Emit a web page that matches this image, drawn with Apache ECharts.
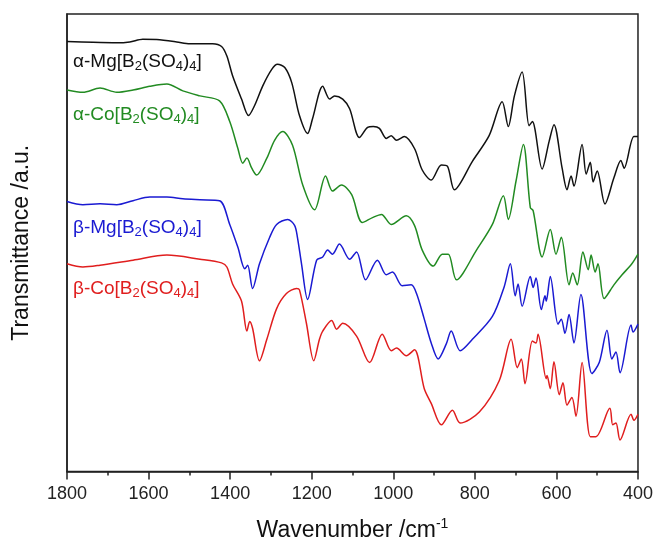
<!DOCTYPE html>
<html><head><meta charset="utf-8">
<script src="https://cdn.jsdelivr.net/npm/echarts@6/dist/echarts.min.js"></script>
<style>html,body{margin:0;padding:0;background:#fff}#c{width:656px;height:547px}</style>
</head><body><div id="c"></div>
<script>
// wavenumber (cm-1), transmittance (a.u., offset)
const alphaMg = [[1800,94.0],[1736,93.8],[1678,93.7],[1646,93.9],[1614,94.5],[1580,94.4],[1531,93.9],[1499,93.5],[1443,93.5],[1421,92.9],[1408,90.8],[1394,86.5],[1372,81.4],[1355,77.8],[1340,80.0],[1320,84.3],[1298,87.9],[1284,89.0],[1266,88.3],[1249,85.0],[1230,77.8],[1210,73.9],[1198,77.1],[1173,84.2],[1156,81.4],[1144,82.1],[1124,81.4],[1107,79.3],[1083,73.0],[1063,75.2],[1049,75.4],[1034,75.0],[1017,72.8],[1005,73.4],[992,72.4],[973,73.2],[948,70.6],[929,65.9],[907,63.7],[882,67.0],[867,66.7],[850,61.6],[806,67.8],[765,73.4],[733,80.8],[718,75.4],[703,82.1],[684,87.3],[667,75.6],[659,76.5],[635,66.1],[618,72.1],[606,75.8],[586,66.3],[574,61.6],[564,64.6],[557,62.4],[537,71.5],[527,65.0],[517,67.6],[510,63.3],[500,65.7],[481,58.5],[459,64.2],[442,68.0],[434,66.3],[410,73.2],[400,73.2]];
const alphaCo = [[1800,83.4],[1761,82.9],[1719,83.8],[1678,82.9],[1638,83.4],[1597,84.2],[1555,84.7],[1516,83.2],[1474,82.1],[1426,81.0],[1401,76.5],[1381,70.6],[1369,67.4],[1359,68.5],[1347,66.3],[1335,64.8],[1310,68.5],[1291,72.4],[1271,74.3],[1247,71.3],[1222,62.6],[1193,57.2],[1166,64.6],[1149,61.3],[1127,62.6],[1102,60.5],[1076,54.4],[1051,55.5],[1029,56.2],[1005,54.0],[968,55.9],[948,53.8],[929,48.4],[902,44.9],[880,47.5],[865,47.5],[845,41.9],[796,48.4],[757,54.0],[730,60.3],[718,55.1],[699,63.5],[681,71.5],[664,57.7],[657,57.0],[635,46.9],[615,52.9],[601,47.5],[588,51.2],[569,40.8],[560,43.4],[549,40.8],[535,48.0],[522,44.1],[515,47.3],[505,43.6],[498,45.4],[483,37.8],[459,40.8],[439,43.0],[415,45.4],[400,47.5]];
const betaMg = [[1800,59.0],[1761,58.3],[1719,58.5],[1678,58.3],[1638,59.2],[1597,60.0],[1555,60.0],[1516,59.6],[1474,59.4],[1426,59.2],[1401,54.0],[1381,49.0],[1364,44.3],[1357,45.1],[1345,40.0],[1328,45.4],[1303,51.2],[1286,54.0],[1259,55.1],[1242,53.8],[1235,51.2],[1225,45.4],[1210,37.6],[1188,46.2],[1173,46.9],[1161,48.4],[1149,47.5],[1132,49.7],[1107,46.4],[1090,48.0],[1068,41.9],[1039,46.2],[1017,43.0],[1002,43.6],[978,40.6],[956,40.8],[943,38.9],[924,33.3],[907,28.1],[890,24.6],[870,27.9],[858,30.7],[836,26.4],[806,28.9],[757,33.9],[728,40.4],[713,45.4],[701,38.4],[694,41.0],[684,36.1],[664,42.6],[657,40.2],[650,42.3],[637,35.4],[628,38.4],[625,37.2],[615,42.6],[596,32.2],[588,33.3],[579,30.2],[569,34.3],[557,28.1],[540,38.7],[513,21.4],[495,23.8],[476,30.9],[464,24.6],[454,26.1],[444,21.6],[417,32.0],[412,30.5],[400,32.2]];
const betaCo = [[1800,45.4],[1761,44.7],[1719,45.1],[1638,46.2],[1555,47.3],[1474,46.4],[1421,45.6],[1408,44.7],[1394,41.0],[1372,37.2],[1359,30.7],[1352,32.8],[1345,31.3],[1328,24.2],[1310,28.9],[1286,35.6],[1262,38.9],[1237,40.0],[1230,39.7],[1213,32.4],[1195,24.2],[1181,28.9],[1173,30.7],[1151,33.0],[1139,31.1],[1124,32.4],[1090,29.6],[1058,23.8],[1027,30.0],[1005,26.4],[992,27.0],[968,25.3],[948,26.6],[924,18.1],[907,14.9],[882,10.2],[855,13.4],[836,10.6],[789,13.0],[740,19.9],[711,28.9],[696,22.7],[686,24.6],[677,19.2],[659,28.5],[650,28.1],[645,30.0],[625,20.3],[623,21.0],[615,18.1],[606,24.0],[593,16.8],[584,19.4],[574,14.5],[562,16.2],[552,12.1],[537,23.8],[517,7.6],[503,7.6],[469,13.8],[462,10.2],[454,10.6],[444,6.9],[417,12.5],[410,11.2],[400,12.5]];

const seriesNames = ['α-Mg[B2(SO4)4]','α-Co[B2(SO4)4]','β-Mg[B2(SO4)4]','β-Co[B2(SO4)4]'];
const seriesData = [alphaMg, alphaCo, betaMg, betaCo];
const colors = ['#111111','#228B22','#1a1ad2','#e01e1e'];
const labelPrefix = ['α-Mg','α-Co','β-Mg','β-Co'];
const labelTop = [62, 115, 228, 289];

const FONT = 'Liberation Sans, Arial, sans-serif';
const chart = echarts.init(document.getElementById('c'));
const graphics = labelPrefix.map((p,i)=>({
  type:'text', left:73, top:labelTop[i]-12,
  style:{
    text:'{a|'+p+'[B}{s|2}{a|(SO}{s|4}{a|)}{s|4}{a|]}',
    fill:colors[i],
    rich:{
      a:{fontSize:19, fontFamily:FONT, lineHeight:24, fill:colors[i]},
      s:{fontSize:13, fontFamily:FONT, lineHeight:24, padding:[10,0,0,0], fill:colors[i]}
    }
  }
}));

chart.setOption({
  animation:false,
  grid:{left:67,right:17,top:14,bottom:72,show:true,borderColor:'#222',borderWidth:1.5},
  xAxis:{type:'value',min:400,max:1800,interval:200,inverse:true,
    name:'Wavenumber /cm{sup|-1}',nameLocation:'middle',nameGap:46,
    nameTextStyle:{fontSize:23,color:'#111',fontFamily:FONT,
      rich:{sup:{fontSize:14,color:'#111',padding:[0,0,12,0],fontFamily:FONT}}},
    axisLine:{lineStyle:{color:'#222',width:1.5}},
    axisTick:{length:8,lineStyle:{color:'#222',width:1.5}},
    minorTick:{show:true,splitNumber:2,length:4,lineStyle:{color:'#222',width:1.5}},
    axisLabel:{fontSize:18,color:'#222',margin:14,fontFamily:FONT,formatter:v=>String(v)},
    splitLine:{show:false}
  },
  yAxis:{type:'value',min:0,max:100,
    name:'Transmittance /a.u.',nameLocation:'middle',nameGap:34,nameRotate:90,
    nameTextStyle:{fontSize:23,color:'#111',fontFamily:FONT},
    axisLine:{show:true,lineStyle:{color:'#222',width:1.5}},
    axisTick:{show:false},axisLabel:{show:false},splitLine:{show:false}
  },
  series:seriesData.map((d,i)=>({
    name:seriesNames[i],type:'line',data:d,showSymbol:false,smooth:0.3,
    lineStyle:{color:colors[i],width:1.5}
  })),
  graphic:graphics
});
</script></body></html>
